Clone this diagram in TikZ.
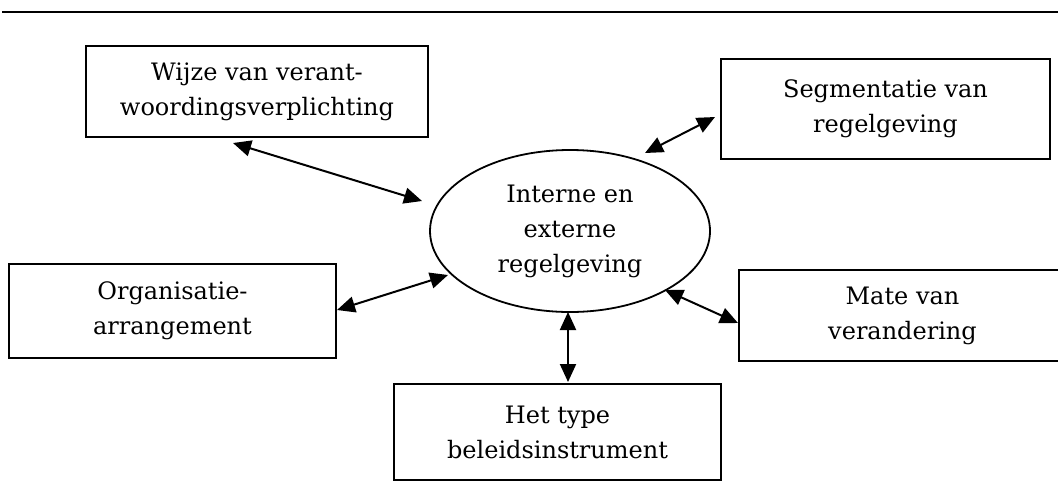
\documentclass[tikz,border=0pt]{standalone}
\usepackage{fontspec}
\setmainfont{DejaVu Serif}
\usetikzlibrary{arrows.meta,shapes.geometric}
\begin{document}
\begin{tikzpicture}[x=0.5pt,y=-0.5pt,
  txt/.style={align=center, font=\fontsize{12}{17.5}\selectfont},
  box/.style={txt, draw, line width=1pt, rectangle, inner sep=0pt},
  oval/.style={txt, draw, line width=0.9pt, ellipse, inner sep=0pt},
  link/.style={line width=1pt, {Triangle[length=9pt,width=8pt]}-{Triangle[length=9pt,width=8pt]}}]
\clip (0,0) rectangle (1058,488);
\fill[white] (0,0) rectangle (1058,488);
\coordinate (l1) at (2,12);
\coordinate (l2) at (1058,12);
\draw[line width=1pt] (l1) -- (l2);

\node[box, minimum width=171pt, minimum height=45.5pt] (wijze) at (257,91.5) {Wijze van verant-\\woordingsverplichting};
\node[box, minimum width=164.5pt, minimum height=50pt] (seg) at (885.5,109) {Segmentatie van\\regelgeving};
\node[box, minimum width=163.5pt, minimum height=47pt] (org) at (172.5,311) {Organisatie-\\arrangement};
\node[box, minimum width=163.5pt, minimum height=45.5pt] (mate) at (902.5,315.5) {Mate van\\verandering};
\node[box, minimum width=163.5pt, minimum height=48pt] (het) at (557.5,432) {Het type\\beleidsinstrument};
\node[oval, minimum width=140pt, minimum height=81pt] (ell) at (570,231) {Interne en\\externe\\regelgeving};

\coordinate (w1) at (233,143); \coordinate (w2) at (422,201);
\coordinate (s1) at (645,153); \coordinate (s2) at (715,117);
\coordinate (o1) at (337,310); \coordinate (o2) at (448,275);
\coordinate (h1) at (568,312); \coordinate (h2) at (568,382);
\coordinate (m1) at (665,290); \coordinate (m2) at (738,323);

\draw[link] (w1) -- (w2);
\draw[link] (s1) -- (s2);
\draw[link] (o1) -- (o2);
\draw[link] (h1) -- (h2);
\draw[link] (m1) -- (m2);
\end{tikzpicture}
\end{document}
